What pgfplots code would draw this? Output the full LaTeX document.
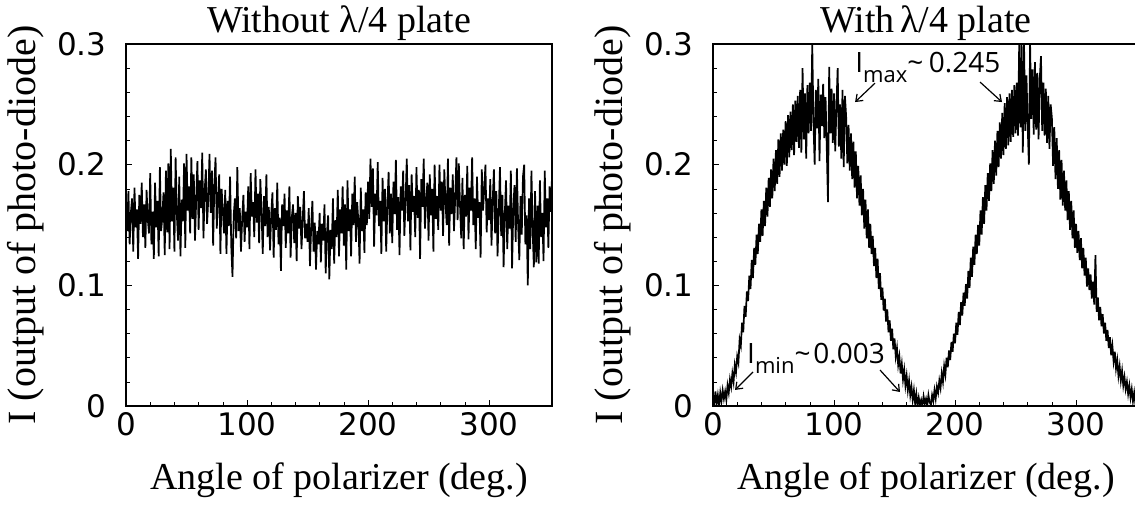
\documentclass[border=0pt]{standalone}
\usepackage{pgfplots}
\pgfplotsset{compat=1.18}
\usepackage{pgfplotstable}
\usetikzlibrary{arrows.meta}
\usepackage{fontspec}
\setmainfont{Liberation Serif}
\newfontfamily\tickfont{DejaVu Sans}
\newfontfamily\annfont{Open Sans}

\pgfplotstableread[row sep=\\]{y\\
0.166\\ 0.145\\ 0.178\\ 0.134\\ 0.160\\ 0.172\\ 0.128\\ 0.181\\ 0.148\\ 0.163\\
0.122\\ 0.175\\ 0.151\\ 0.185\\ 0.140\\ 0.167\\ 0.131\\ 0.179\\ 0.155\\ 0.143\\
0.193\\ 0.134\\ 0.161\\ 0.122\\ 0.185\\ 0.148\\ 0.170\\ 0.124\\ 0.198\\ 0.145\\
0.156\\ 0.177\\ 0.125\\ 0.195\\ 0.144\\ 0.201\\ 0.130\\ 0.213\\ 0.153\\ 0.181\\
0.128\\ 0.206\\ 0.159\\ 0.137\\ 0.190\\ 0.124\\ 0.171\\ 0.153\\ 0.201\\ 0.131\\
0.209\\ 0.162\\ 0.182\\ 0.143\\ 0.206\\ 0.155\\ 0.192\\ 0.137\\ 0.171\\ 0.203\\
0.146\\ 0.187\\ 0.164\\ 0.210\\ 0.139\\ 0.178\\ 0.196\\ 0.151\\ 0.172\\ 0.209\\
0.160\\ 0.195\\ 0.133\\ 0.184\\ 0.206\\ 0.147\\ 0.171\\ 0.192\\ 0.126\\ 0.180\\
0.162\\ 0.143\\ 0.179\\ 0.126\\ 0.170\\ 0.149\\ 0.190\\ 0.132\\ 0.107\\ 0.158\\
0.172\\ 0.139\\ 0.198\\ 0.145\\ 0.164\\ 0.128\\ 0.155\\ 0.175\\ 0.136\\ 0.161\\
0.148\\ 0.182\\ 0.130\\ 0.193\\ 0.157\\ 0.169\\ 0.140\\ 0.196\\ 0.152\\ 0.176\\
0.135\\ 0.188\\ 0.161\\ 0.126\\ 0.174\\ 0.149\\ 0.192\\ 0.140\\ 0.165\\ 0.129\\
0.159\\ 0.177\\ 0.123\\ 0.164\\ 0.146\\ 0.185\\ 0.134\\ 0.156\\ 0.112\\ 0.167\\
0.149\\ 0.176\\ 0.131\\ 0.162\\ 0.143\\ 0.182\\ 0.123\\ 0.156\\ 0.167\\ 0.135\\
0.160\\ 0.120\\ 0.174\\ 0.147\\ 0.165\\ 0.130\\ 0.154\\ 0.178\\ 0.139\\ 0.151\\
0.136\\ 0.164\\ 0.116\\ 0.148\\ 0.170\\ 0.128\\ 0.152\\ 0.113\\ 0.145\\ 0.134\\
0.160\\ 0.119\\ 0.151\\ 0.137\\ 0.167\\ 0.110\\ 0.142\\ 0.158\\ 0.105\\ 0.146\\
0.130\\ 0.172\\ 0.118\\ 0.154\\ 0.140\\ 0.179\\ 0.124\\ 0.163\\ 0.143\\ 0.182\\
0.133\\ 0.167\\ 0.113\\ 0.187\\ 0.145\\ 0.163\\ 0.124\\ 0.176\\ 0.150\\ 0.190\\
0.136\\ 0.169\\ 0.153\\ 0.118\\ 0.181\\ 0.145\\ 0.163\\ 0.127\\ 0.177\\ 0.150\\
0.186\\ 0.155\\ 0.205\\ 0.165\\ 0.197\\ 0.132\\ 0.176\\ 0.158\\ 0.202\\ 0.149\\
0.170\\ 0.126\\ 0.189\\ 0.153\\ 0.180\\ 0.128\\ 0.167\\ 0.194\\ 0.143\\ 0.176\\
0.135\\ 0.186\\ 0.159\\ 0.204\\ 0.146\\ 0.173\\ 0.125\\ 0.182\\ 0.162\\ 0.195\\
0.141\\ 0.170\\ 0.205\\ 0.153\\ 0.183\\ 0.129\\ 0.192\\ 0.161\\ 0.174\\ 0.140\\
0.198\\ 0.156\\ 0.179\\ 0.122\\ 0.188\\ 0.165\\ 0.205\\ 0.147\\ 0.171\\ 0.185\\
0.137\\ 0.192\\ 0.158\\ 0.180\\ 0.128\\ 0.200\\ 0.155\\ 0.174\\ 0.146\\ 0.200\\
0.162\\ 0.186\\ 0.141\\ 0.196\\ 0.168\\ 0.150\\ 0.205\\ 0.133\\ 0.181\\ 0.159\\
0.192\\ 0.145\\ 0.172\\ 0.206\\ 0.154\\ 0.201\\ 0.166\\ 0.139\\ 0.189\\ 0.130\\
0.175\\ 0.157\\ 0.199\\ 0.138\\ 0.181\\ 0.162\\ 0.206\\ 0.150\\ 0.172\\ 0.130\\
0.190\\ 0.156\\ 0.169\\ 0.123\\ 0.196\\ 0.162\\ 0.180\\ 0.200\\ 0.144\\ 0.172\\
0.154\\ 0.188\\ 0.133\\ 0.170\\ 0.196\\ 0.143\\ 0.178\\ 0.124\\ 0.161\\ 0.198\\
0.141\\ 0.175\\ 0.115\\ 0.159\\ 0.187\\ 0.130\\ 0.166\\ 0.147\\ 0.195\\ 0.114\\
0.163\\ 0.183\\ 0.136\\ 0.197\\ 0.150\\ 0.121\\ 0.174\\ 0.142\\ 0.190\\ 0.200\\
0.134\\ 0.158\\ 0.100\\ 0.172\\ 0.130\\ 0.195\\ 0.146\\ 0.115\\ 0.178\\ 0.119\\
0.166\\ 0.118\\ 0.187\\ 0.140\\ 0.160\\ 0.120\\ 0.195\\ 0.148\\ 0.172\\ 0.131\\
0.182\\ 0.161\\ 0.190\\
}\leftdata

\pgfplotstableread[row sep=\\]{y\\
0.006\\ 0.001\\ 0.012\\ 0.002\\ 0.009\\ 0.000\\ 0.011\\ 0.004\\ 0.013\\ 0.006\\
0.012\\ 0.005\\ 0.017\\ 0.011\\ 0.022\\ 0.016\\ 0.027\\ 0.020\\ 0.034\\ 0.028\\
0.041\\ 0.036\\ 0.055\\ 0.050\\ 0.069\\ 0.061\\ 0.083\\ 0.074\\ 0.095\\ 0.087\\
0.108\\ 0.097\\ 0.121\\ 0.106\\ 0.131\\ 0.117\\ 0.142\\ 0.126\\ 0.151\\ 0.136\\
0.163\\ 0.141\\ 0.170\\ 0.149\\ 0.181\\ 0.157\\ 0.189\\ 0.165\\ 0.196\\ 0.172\\
0.205\\ 0.178\\ 0.212\\ 0.184\\ 0.221\\ 0.190\\ 0.226\\ 0.195\\ 0.229\\ 0.200\\
0.236\\ 0.199\\ 0.241\\ 0.206\\ 0.244\\ 0.212\\ 0.250\\ 0.208\\ 0.253\\ 0.219\\
0.257\\ 0.214\\ 0.262\\ 0.210\\ 0.280\\ 0.221\\ 0.259\\ 0.205\\ 0.266\\ 0.226\\
0.268\\ 0.228\\ 0.300\\ 0.236\\ 0.200\\ 0.262\\ 0.230\\ 0.271\\ 0.203\\ 0.258\\
0.232\\ 0.267\\ 0.222\\ 0.256\\ 0.214\\ 0.169\\ 0.281\\ 0.226\\ 0.263\\ 0.218\\
0.259\\ 0.211\\ 0.249\\ 0.280\\ 0.215\\ 0.250\\ 0.205\\ 0.262\\ 0.198\\ 0.257\\
0.240\\ 0.201\\ 0.233\\ 0.195\\ 0.226\\ 0.188\\ 0.219\\ 0.181\\ 0.211\\ 0.172\\
0.199\\ 0.166\\ 0.191\\ 0.158\\ 0.180\\ 0.147\\ 0.171\\ 0.139\\ 0.163\\ 0.131\\
0.151\\ 0.126\\ 0.141\\ 0.116\\ 0.131\\ 0.106\\ 0.122\\ 0.097\\ 0.110\\ 0.088\\
0.098\\ 0.079\\ 0.089\\ 0.070\\ 0.080\\ 0.061\\ 0.071\\ 0.054\\ 0.064\\ 0.047\\
0.056\\ 0.041\\ 0.048\\ 0.034\\ 0.041\\ 0.027\\ 0.035\\ 0.022\\ 0.030\\ 0.017\\
0.025\\ 0.013\\ 0.021\\ 0.009\\ 0.016\\ 0.005\\ 0.013\\ 0.002\\ 0.010\\ 0.000\\
0.007\\ 0.001\\ 0.005\\ 0.000\\ 0.008\\ 0.002\\ 0.006\\ 0.000\\ 0.009\\ 0.003\\
0.001\\ 0.009\\ 0.004\\ 0.013\\ 0.006\\ 0.016\\ 0.011\\ 0.021\\ 0.015\\ 0.027\\
0.020\\ 0.033\\ 0.026\\ 0.040\\ 0.032\\ 0.046\\ 0.038\\ 0.053\\ 0.045\\ 0.060\\
0.052\\ 0.069\\ 0.059\\ 0.078\\ 0.067\\ 0.086\\ 0.075\\ 0.094\\ 0.083\\ 0.101\\
0.089\\ 0.112\\ 0.098\\ 0.123\\ 0.107\\ 0.132\\ 0.117\\ 0.142\\ 0.126\\ 0.150\\
0.133\\ 0.162\\ 0.142\\ 0.173\\ 0.151\\ 0.183\\ 0.162\\ 0.193\\ 0.170\\ 0.201\\
0.178\\ 0.212\\ 0.184\\ 0.220\\ 0.191\\ 0.228\\ 0.198\\ 0.235\\ 0.205\\ 0.243\\
0.208\\ 0.251\\ 0.213\\ 0.256\\ 0.216\\ 0.259\\ 0.219\\ 0.262\\ 0.223\\ 0.266\\
0.226\\ 0.268\\ 0.224\\ 0.300\\ 0.231\\ 0.300\\ 0.210\\ 0.300\\ 0.228\\ 0.274\\
0.233\\ 0.200\\ 0.300\\ 0.238\\ 0.279\\ 0.225\\ 0.285\\ 0.229\\ 0.276\\ 0.221\\
0.271\\ 0.290\\ 0.228\\ 0.268\\ 0.224\\ 0.263\\ 0.218\\ 0.257\\ 0.213\\ 0.250\\
0.239\\ 0.199\\ 0.231\\ 0.188\\ 0.222\\ 0.180\\ 0.212\\ 0.171\\ 0.204\\ 0.166\\
0.195\\ 0.162\\ 0.187\\ 0.154\\ 0.178\\ 0.146\\ 0.170\\ 0.139\\ 0.162\\ 0.131\\
0.151\\ 0.127\\ 0.145\\ 0.121\\ 0.139\\ 0.114\\ 0.131\\ 0.108\\ 0.123\\ 0.099\\
0.114\\ 0.096\\ 0.109\\ 0.089\\ 0.103\\ 0.084\\ 0.125\\ 0.078\\ 0.090\\ 0.071\\
0.082\\ 0.066\\ 0.076\\ 0.060\\ 0.069\\ 0.054\\ 0.063\\ 0.048\\ 0.057\\ 0.042\\
0.050\\ 0.037\\ 0.045\\ 0.031\\ 0.038\\ 0.025\\ 0.033\\ 0.021\\ 0.029\\ 0.017\\
0.024\\ 0.014\\ 0.020\\ 0.010\\ 0.017\\ 0.007\\ 0.014\\ 0.004\\ 0.011\\ 0.002\\
0.008\\ 0.002\\ 0.006\\
}\rightdata

\pgfplotsset{
  myaxis/.style={
    scale only axis,
    width=426pt, height=362pt,
    xmin=0, xmax=352, ymin=0, ymax=0.3,
    xtick={0,100,200,300}, xticklabels={0,100,200,300},
    ytick={0,0.1,0.2,0.3}, yticklabels={0,0.1,0.2,0.3},
    minor x tick num=4, minor y tick num=4,
    tick pos=left, tick align=inside,
    major tick length=6pt, minor tick length=4pt,
    every tick/.style={black, line width=0.5pt},
    /pgf/number format/assume math mode=true,
    tick label style={font=\tickfont\fontsize{31}{31}\selectfont},
    yticklabel style={xshift=-16pt},
    xticklabel style={yshift=-3pt},
    axis line style={line width=1.5pt},
    every axis title shift=0pt,
    title style={font=\fontsize{38}{40}\selectfont, at={(axis description cs:0.5,1.0304)}, anchor=base, inner sep=0pt},
    xlabel={Angle of polarizer (deg.)},
    ylabel={I (output of photo-diode)},
    x label style={font=\fontsize{38}{40}\selectfont, at={(axis description cs:0.5,-0.232)}, anchor=base, inner sep=0pt},
    y label style={font=\fontsize{40}{42}\selectfont, at={(axis description cs:-0.2347,0.5)}, anchor=center, rotate=0, inner sep=0pt},
  },
}

\begin{document}
\begin{tikzpicture}
\useasboundingbox (0,0) rectangle (1135pt,506pt);
\clip (0,0) rectangle (1135pt,506pt);

\begin{axis}[myaxis, at={(126pt,100pt)}, anchor=south west,
  title={Without λ/4 plate}]
\addplot[black, line width=1.7pt, no markers, sharp plot] table[x expr=\coordindex, y=y] {\leftdata};
\end{axis}

\begin{axis}[myaxis, at={(713pt,100pt)}, anchor=south west,
  title={With\hspace{0.15em}λ/4 plate}, clip=false]
\begin{scope}
\clip (axis cs:0,0) rectangle (axis cs:352,0.3);
\addplot[black, line width=1.7pt, no markers, sharp plot] table[x expr=\coordindex, y=y] {\rightdata};
\end{scope}
\node[anchor=base west, inner sep=0pt, font=\annfont\fontsize{28}{28}\selectfont] at (axis cs:117.4,0.2767)
  {I\raisebox{-10pt}{\fontsize{22}{22}\selectfont max}\textasciitilde\hspace{0.2em}0.245};
\node[anchor=base west, inner sep=0pt, font=\annfont\fontsize{28}{28}\selectfont] at (axis cs:28.1,0.0356)
  {I\raisebox{-10pt}{\fontsize{22}{22}\selectfont min}\textasciitilde\hspace{0.1em}0.003};
\draw[line width=1.2pt, -{Straight Barb[length=6pt,width=9pt]}] (axis cs:133.9,0.2676) -- (axis cs:117.4,0.2519);
\draw[line width=1.2pt, -{Straight Barb[length=6pt,width=9pt]}] (axis cs:220.7,0.2684) -- (axis cs:238.8,0.2519);
\draw[line width=1.2pt, -{Straight Barb[length=6pt,width=9pt]}] (axis cs:33.1,0.0282) -- (axis cs:18.2,0.0133);
\draw[line width=1.2pt, -{Straight Barb[length=6pt,width=9pt]}] (axis cs:138.0,0.0298) -- (axis cs:154.5,0.0116);
\end{axis}
\end{tikzpicture}
\end{document}
